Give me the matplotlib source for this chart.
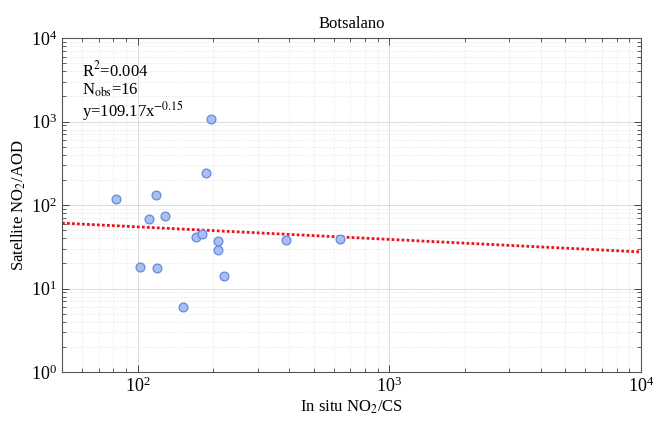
import numpy as np
import matplotlib
matplotlib.use("Agg")
import matplotlib.pyplot as plt
from matplotlib.ticker import LogLocator, FixedLocator, NullFormatter

plt.rcParams['font.family'] = ['Liberation Serif', 'DejaVu Serif']
plt.rcParams['mathtext.fontset'] = 'stix'

title = "Botsalano"
x_insitu = [196, 187, 81.6, 118.6, 111.3, 128, 170, 180.5, 207.8, 207.8, 390, 634.6, 102.2, 119, 220, 151.8]
y_sat = [1062, 240, 119, 133, 68.5, 73.3, 41.7, 45, 37.4, 28.9, 38.4, 39.2, 18.2, 17.7, 14.1, 6.05]
fit_a = 109.17
fit_b = -0.15
r2 = "0.004"
nobs = 16
xlim = (50, 1e4)
ylim = (1, 1e4)

fig = plt.figure(figsize=(6.54, 4.21), dpi=100)
ax = fig.add_axes([0.0948, 0.1164, 0.8852, 0.7933])
ax.set_xscale('log')
ax.set_yscale('log')
ax.set_xlim(*xlim)
ax.set_ylim(*ylim)

ax.grid(True, which='major', color='#d6d6d6', linestyle='-', linewidth=0.6)
ax.grid(True, which='minor', color='#e0e0e0', linestyle=':', linewidth=0.6)
ax.set_axisbelow(True)

xf = np.logspace(np.log10(xlim[0]), np.log10(xlim[1]), 200)
ax.plot(xf, fit_a * xf ** fit_b, color='#e8141c', linestyle=(0, (1, 0.8)), linewidth=2.0, zorder=2)
ax.scatter(x_insitu, y_sat, s=40, facecolor='#a9bff2', edgecolor='#6688e0', linewidth=0.9, zorder=3)

ax.xaxis.set_major_locator(FixedLocator([1e2, 1e3, 1e4]))
ax.xaxis.set_minor_locator(LogLocator(base=10, subs=np.arange(2, 10), numticks=20))
ax.yaxis.set_major_locator(FixedLocator([1, 10, 100, 1e3, 1e4]))
ax.yaxis.set_minor_locator(LogLocator(base=10, subs=np.arange(2, 10), numticks=20))
ax.xaxis.set_minor_formatter(NullFormatter())
ax.yaxis.set_minor_formatter(NullFormatter())
ax.tick_params(which='both', direction='in', top=True, right=True, labelsize=13, color='#444444')
ax.tick_params(which='major', length=5, width=0.7)
ax.tick_params(which='minor', length=3, width=0.6)
for s in ax.spines.values():
    s.set_color('#555555')
    s.set_linewidth(0.8)

ax.set_title(title, fontsize=12, pad=7)
ax.set_xlabel(r"In situ NO$_2$/CS", fontsize=12, labelpad=2)
ax.set_ylabel(r"Satellite NO$_2$/AOD", fontsize=12, labelpad=2)

ax.text(0.035, 0.885, r"R$^2$=" + r2, transform=ax.transAxes, fontsize=12)
ax.text(0.035, 0.83, r"N$_{\mathrm{obs}}$=%d" % nobs, transform=ax.transAxes, fontsize=12)
ax.text(0.035, 0.765, r"y=%.2fx$^{%.2f}$" % (fit_a, fit_b), transform=ax.transAxes, fontsize=12)

fig.savefig("out.png", dpi=100)
